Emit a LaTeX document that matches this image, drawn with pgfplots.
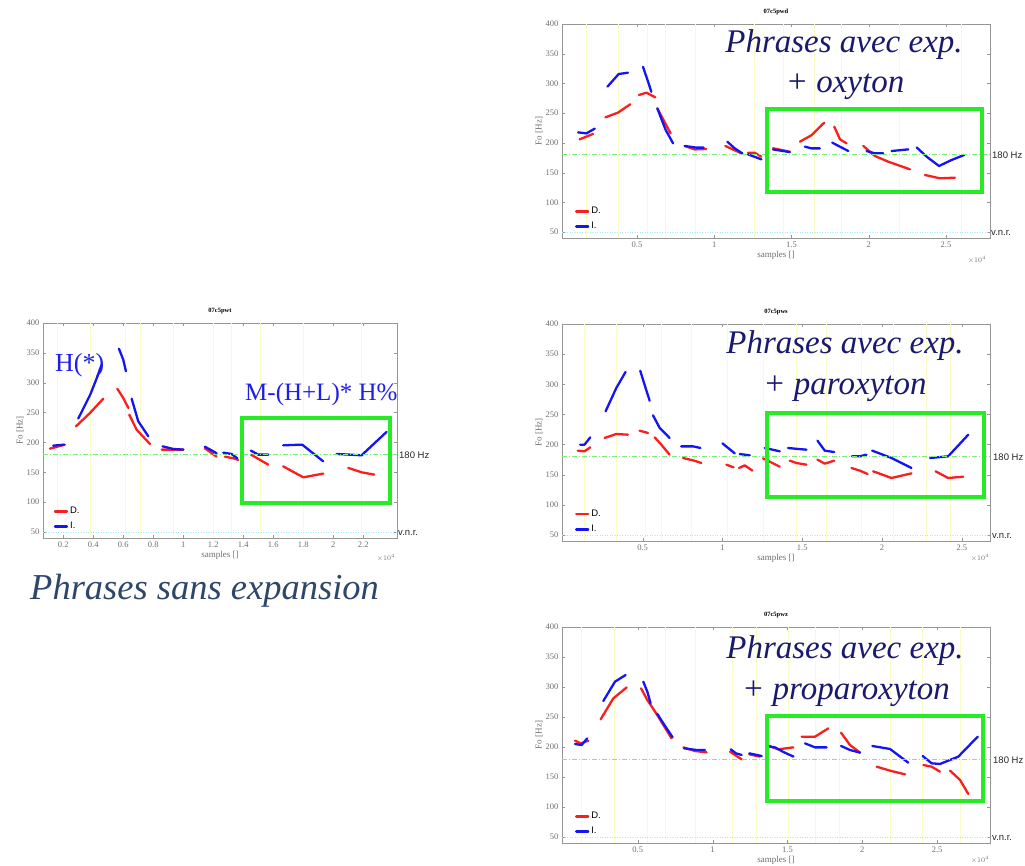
\documentclass[border=0pt]{standalone}
\usepackage{fontspec}
\setmainfont{Liberation Serif}
\newfontfamily\arial{Liberation Sans}
\usepackage{pgfplots}
\pgfplotsset{compat=1.18}
\definecolor{myred}{RGB}{250,30,30}
\definecolor{myblue}{RGB}{20,20,245}
\definecolor{ylw}{RGB}{252,252,200}
\definecolor{gline}{RGB}{120,240,120}
\definecolor{cline}{RGB}{160,235,250}
\definecolor{boxg}{RGB}{40,235,40}
\definecolor{navytxt}{RGB}{25,25,110}
\definecolor{slate}{RGB}{45,70,105}
\definecolor{axgray}{RGB}{150,150,150}
\definecolor{lblgray}{RGB}{110,110,110}
\definecolor{annblue}{RGB}{30,30,235}
\pgfplotsset{
  f0/.style={
    scale only axis, anchor=north west,
    ymin=40, ymax=400, ytick={50,100,150,200,250,300,350,400},
    axis line style={axgray}, tick style={axgray}, major tick length=3pt,
    tick label style={font=\fontsize{8.5}{9}\selectfont, text=lblgray},
    /pgf/number format/assume math mode=true,
    label style={font=\fontsize{9}{10}\selectfont, text=lblgray},
    xlabel={samples []}, ylabel={Fo [Hz]},
    xlabel style={yshift=3pt}, ylabel style={yshift=-4pt},
    title style={font=\bfseries\fontsize{6.5}{7}\selectfont, yshift=0pt},
    unbounded coords=jump,
    legend style={at={(0.03,0.025)}, anchor=south west, draw=none, fill=none,
      font=\arial\fontsize{9.5}{10}\selectfont, row sep=3pt, inner sep=0pt,
      cells={anchor=west}},
    legend image code/.code={\draw[##1] (0pt,0pt) -- (12pt,0pt);},
    legend entries={D.,I.},
    extra x tick labels={},
    extra x tick style={grid=major, major tick length=0pt},
    major grid style={ylw, line width=0.6pt},
  },
  dr/.style={myred, line width=2.3pt, line cap=round, line join=round},
  di/.style={myblue, line width=2.3pt, line cap=round, line join=round},
  r180/.style={gline, line width=0.8pt, dash pattern=on 5pt off 2pt on 1pt off 2pt, forget plot},
  r50/.style={cline, line width=0.8pt, dash pattern=on 1pt off 1.5pt, forget plot},
}
\tikzset{
  ann/.style={font=\fontsize{9.5}{10}\selectfont\arial, text=black!85, anchor=west, inner sep=0pt},
  big/.style={font=\fontsize{33}{36}\selectfont\itshape, text=navytxt, anchor=base, inner sep=0pt},
  gbox/.style={draw=boxg, line width=4pt},
}
\begin{document}
\begin{tikzpicture}
\path[use as bounding box] (0pt,0pt) rectangle (1025pt,-866pt);

% ---------------- top right: 07c5pwd
\begin{axis}[f0, at={(562pt,-24pt)}, width=428pt, height=214pt,
  xmin=0.015, xmax=2.785, xtick={0.5,1,1.5,2,2.5}, title={07c5pwd},
  extra x ticks={0.173,0.382,0.567,0.686,0.88,1.262,1.447,1.648,1.82,2.2,2.6}]
\addplot[dr] coordinates {(0.129,206) (0.216,215) (0.25,nan)
 (0.296,243) (0.378,251) (0.457,265) (0.48,nan)
 (0.513,280.5) (0.561,284.5) (0.619,276.6) (0.625,nan)
 (0.632,258) (0.718,216) (0.76,nan)
 (0.809,194.8) (0.874,189) (0.949,189.7) (1.0,nan)
 (1.072,194.8) (1.176,182.4) (1.2,nan)
 (1.219,183.5) (1.262,183.5) (1.305,176.8) (1.35,nan)
 (1.381,191) (1.49,185) (1.52,nan)
 (1.555,202) (1.63,213) (1.712,234) (1.74,nan)
 (1.777,227.3) (1.814,206) (1.857,199.2) (1.9,nan)
 (1.965,194.8) (2.04,178) (2.126,168.4) (2.267,155.5) (2.3,nan)
 (2.364,146) (2.461,140.4) (2.558,141.5)};
\addplot[di] coordinates {(0.119,217.7) (0.173,216) (0.227,224) (0.26,nan)
 (0.309,294.6) (0.382,315.9) (0.442,318) (0.48,nan)
 (0.539,328) (0.572,303) (0.593,286) (0.61,nan)
 (0.632,258) (0.686,221.7) (0.734,199.2) (0.77,nan)
 (0.809,194.8) (0.885,192) (0.932,192) (1.0,nan)
 (1.085,202) (1.133,190.8) (1.182,182.4) (1.2,nan)
 (1.219,180.7) (1.305,172.3) (1.34,nan)
 (1.381,189) (1.49,184.5) (1.55,nan)
 (1.587,193.6) (1.63,190.8) (1.684,190.8) (1.72,nan)
 (1.764,200.4) (1.814,193.6) (1.868,186.3) (1.93,nan)
 (1.986,186.3) (2.04,182.4) (2.094,182.4) (2.12,nan)
 (2.148,186.3) (2.256,189.1) (2.28,nan)
 (2.31,192.5) (2.375,176.8) (2.455,161.1) (2.536,171.2) (2.618,179.6)};
\addplot[r180] coordinates {(0.015,180) (2.785,180)};
\addplot[r50] coordinates {(0.015,50) (2.785,50)};
\end{axis}

% ---------------- middle left: 07c5pwt
\begin{axis}[f0, at={(43pt,-323pt)}, width=354pt, height=215pt,
  xmin=0.065, xmax=2.425, xtick={0.2,0.4,0.6,0.8,1,1.2,1.4,1.6,1.8,2,2.2}, title={07c5pwt},
  extra x ticks={0.16,0.382,0.611,0.711,0.933,1.2,1.322,1.511,1.8,2.189}]
\addplot[dr] coordinates {(0.111,189.6) (0.211,196.3) (0.24,nan)
 (0.285,227) (0.378,249.3) (0.467,273.3) (0.5,nan)
 (0.56,290) (0.6,274.5) (0.634,257.7) (0.637,nan)
 (0.64,246.5) (0.689,221.4) (0.778,197.4) (0.82,nan)
 (0.856,188) (0.933,188) (1.0,188) (1.05,nan)
 (1.144,190.2) (1.222,176.2) (1.25,nan)
 (1.278,176.2) (1.333,173.5) (1.367,170.7) (1.4,nan)
 (1.451,179.6) (1.567,162.8) (1.6,nan)
 (1.666,160) (1.8,141.6) (1.933,147.8) (2.0,nan)
 (2.1,157.3) (2.189,150) (2.273,146.1)};
\addplot[di] coordinates {(0.133,194.6) (0.205,196.3) (0.25,nan)
 (0.30,240) (0.38,280) (0.43,312) (0.455,330) (0.5,nan)
 (0.571,357) (0.6,338.6) (0.618,319.1) (0.63,nan)
 (0.656,273.3) (0.7,235.4) (0.767,210.3) (0.8,nan)
 (0.862,193.5) (0.933,189.1) (1.0,188) (1.05,nan)
 (1.144,192.9) (1.2,185.1) (1.222,181.8) (1.24,nan)
 (1.267,182.9) (1.322,180.7) (1.36,173.5) (1.4,nan)
 (1.451,186.3) (1.5,179.6) (1.567,179.6) (1.6,nan)
 (1.666,195.2) (1.793,196.3) (1.933,168.4) (1.98,nan)
 (2.022,180.7) (2.189,178.5) (2.355,217.5)};
\addplot[r180] coordinates {(0.065,180) (2.425,180)};
\addplot[r50] coordinates {(0.065,50) (2.425,50)};
\end{axis}

% ---------------- middle right: 07c5pws
\begin{axis}[f0, at={(562pt,-324pt)}, width=428pt, height=217pt,
  xmin=-0.005, xmax=2.676, xtick={0.5,1,1.5,2,2.5}, title={07c5pws},
  extra x ticks={0.136,0.335,0.519,0.617,0.805,1.029,1.254,1.463,1.652,1.871,2.07,2.28,2.425}]
\addplot[dr] coordinates {(0.094,189.9) (0.136,188.8) (0.172,195.4) (0.2,nan)
 (0.262,210.9) (0.335,217.5) (0.408,216.4) (0.44,nan)
 (0.481,223) (0.534,219.2) (0.55,nan)
 (0.575,212) (0.617,199.8) (0.669,183.2) (0.7,nan)
 (0.753,177.7) (0.816,173.8) (0.868,169.4) (0.95,nan)
 (1.025,166.6) (1.07,162.2) (1.09,nan)
 (1.104,161.1) (1.14,165.5) (1.188,156.7) (1.22,nan)
 (1.254,177.1) (1.359,163.3) (1.39,nan)
 (1.422,173.3) (1.463,169.4) (1.526,166.6) (1.56,nan)
 (1.595,175) (1.641,168.3) (1.7,173.3) (1.75,nan)
 (1.808,161.1) (1.861,156.7) (1.909,151.2) (1.925,nan)
 (1.944,155.6) (2.059,144.5) (2.184,152.2) (2.25,nan)
 (2.335,155.6) (2.414,144.5) (2.508,146.7)};
\addplot[di] coordinates {(0.109,199.8) (0.136,199.8) (0.172,212) (0.2,nan)
 (0.268,255.1) (0.335,293.8) (0.393,320.4) (0.44,nan)
 (0.485,322.6) (0.512,299.4) (0.544,272.8) (0.555,nan)
 (0.565,248.5) (0.607,227.5) (0.669,210.9) (0.7,nan)
 (0.742,197) (0.816,197) (0.862,194.3) (0.95,nan)
 (1.0,202) (1.077,185.4) (1.09,nan)
 (1.108,184.3) (1.171,182.1) (1.22,nan)
 (1.265,194.3) (1.359,188.8) (1.39,nan)
 (1.411,194.3) (1.453,193.2) (1.526,191.5) (1.56,nan)
 (1.595,206.5) (1.641,189.9) (1.7,187.6) (1.75,nan)
 (1.812,180.5) (1.861,180.5) (1.902,183.2) (1.92,nan)
 (1.938,189.9) (2.059,177.7) (2.184,161.1) (2.25,nan)
 (2.3,177.7) (2.414,180.5) (2.54,216.4)};
\addplot[r180] coordinates {(-0.005,180) (2.676,180)};
\addplot[r50] coordinates {(-0.005,50) (2.676,50)};
\end{axis}

% ---------------- bottom right: 07c5pwz
\begin{axis}[f0, at={(562pt,-627pt)}, width=428pt, height=216pt,
  xmin=-0.006, xmax=2.853, xtick={0.5,1,1.5,2,2.5}, title={07c5pwz},
  extra x ticks={0.125,0.341,0.564,0.682,0.882,1.134,1.294,1.506,1.689,1.846,2.185,2.403,2.657}]
\addplot[dr] coordinates {(0.081,210.5) (0.119,206.1) (0.17,210.5) (0.2,nan)
 (0.252,246.1) (0.337,281.1) (0.426,299.4) (0.48,nan)
 (0.522,297.8) (0.564,278.3) (0.626,255) (0.671,236.7) (0.726,214.4) (0.77,nan)
 (0.805,199.4) (0.882,193.3) (0.96,191.1) (1.05,nan)
 (1.116,192.2) (1.194,179.4) (1.22,nan)
 (1.245,187.8) (1.316,183.9) (1.34,nan)
 (1.361,203.3) (1.439,196.1) (1.539,199.4) (1.57,nan)
 (1.595,217.2) (1.684,217.2) (1.773,231.1) (1.82,nan)
 (1.858,223.9) (1.918,203.3) (1.985,190.6) (2.05,nan)
 (2.096,167.2) (2.185,160.6) (2.285,154.4) (2.35,nan)
 (2.408,170) (2.463,167.2) (2.519,158.9) (2.55,nan)
 (2.586,160.6) (2.653,145) (2.708,121.7)};
\addplot[di] coordinates {(0.081,205) (0.125,203.3) (0.163,214.4) (0.2,nan)
 (0.27,276.7) (0.348,308.9) (0.419,320) (0.48,nan)
 (0.537,308.9) (0.564,292.2) (0.586,272.8) (0.6,nan)
 (0.631,255) (0.671,239.4) (0.733,216.1) (0.77,nan)
 (0.809,197.8) (0.893,195) (0.949,195) (1.05,nan)
 (1.121,196.1) (1.156,189.4) (1.194,186.7) (1.22,nan)
 (1.245,189.4) (1.328,185) (1.35,nan)
 (1.36,202) (1.42,199) (1.47,192) (1.54,184) (1.57,nan)
 (1.617,206.1) (1.684,199.4) (1.762,199.4) (1.81,nan)
 (1.858,201.7) (1.918,195) (1.985,190.6) (2.03,nan)
 (2.067,201.7) (2.185,196.7) (2.307,173.9) (2.35,nan)
 (2.403,185) (2.463,172.8) (2.519,171.7) (2.641,183.9) (2.771,217.2)};
\addplot[r180] coordinates {(-0.006,180) (2.853,180)};
\addplot[r50] coordinates {(-0.006,50) (2.853,50)};
\end{axis}

% ---------------- annotations
\draw[gbox] (766.7pt,-109pt) rectangle (982.3pt,-192.3pt);
\draw[gbox] (241.7pt,-418.3pt) rectangle (390pt,-503.3pt);
\draw[gbox] (766.7pt,-413.3pt) rectangle (984.3pt,-497.3pt);
\draw[gbox] (766.7pt,-716pt) rectangle (983.3pt,-800.7pt);

\node[big] at (844pt,-53pt) {Phrases avec exp.};
\node[big] at (845pt,-92.5pt) {+ oxyton};
\node[big] at (845pt,-353pt) {Phrases avec exp.};
\node[big] at (845pt,-395pt) {+ paroxyton};
\node[big] at (845pt,-658pt) {Phrases avec exp.};
\node[big] at (846pt,-699pt) {+ proparoxyton};

\node[font=\fontsize{36.5}{38}\selectfont\itshape, text=slate, anchor=base west, inner sep=0pt] at (30pt,-599pt) {Phrases sans expansion};
\node[font=\fontsize{26}{28}\selectfont, text=annblue, anchor=base west, inner sep=0pt] at (55pt,-371.7pt) {H(*)};
\node[font=\fontsize{25}{27}\selectfont, text=annblue, anchor=base west, inner sep=0pt] at (245pt,-400pt) {M-(H+L)* H\%};

\node[ann] at (992pt,-155pt) {180 Hz};
\node[ann] at (991pt,-233pt) {v.n.r.};
\node[ann] at (399pt,-455pt) {180 Hz};
\node[ann] at (398pt,-533pt) {v.n.r.};
\node[ann] at (993pt,-457pt) {180 Hz};
\node[ann] at (992pt,-536pt) {v.n.r.};
\node[ann] at (993pt,-760pt) {180 Hz};
\node[ann] at (992pt,-838pt) {v.n.r.};

\node[font=\fontsize{7}{8}\selectfont, text=lblgray, inner sep=0pt] at (977pt,-260pt) {$\times10^4$};
\node[font=\fontsize{7}{8}\selectfont, text=lblgray, inner sep=0pt] at (386pt,-558pt) {$\times10^4$};
\node[font=\fontsize{7}{8}\selectfont, text=lblgray, inner sep=0pt] at (980pt,-558pt) {$\times10^4$};
\node[font=\fontsize{7}{8}\selectfont, text=lblgray, inner sep=0pt] at (980pt,-860pt) {$\times10^4$};
\end{tikzpicture}
\end{document}
